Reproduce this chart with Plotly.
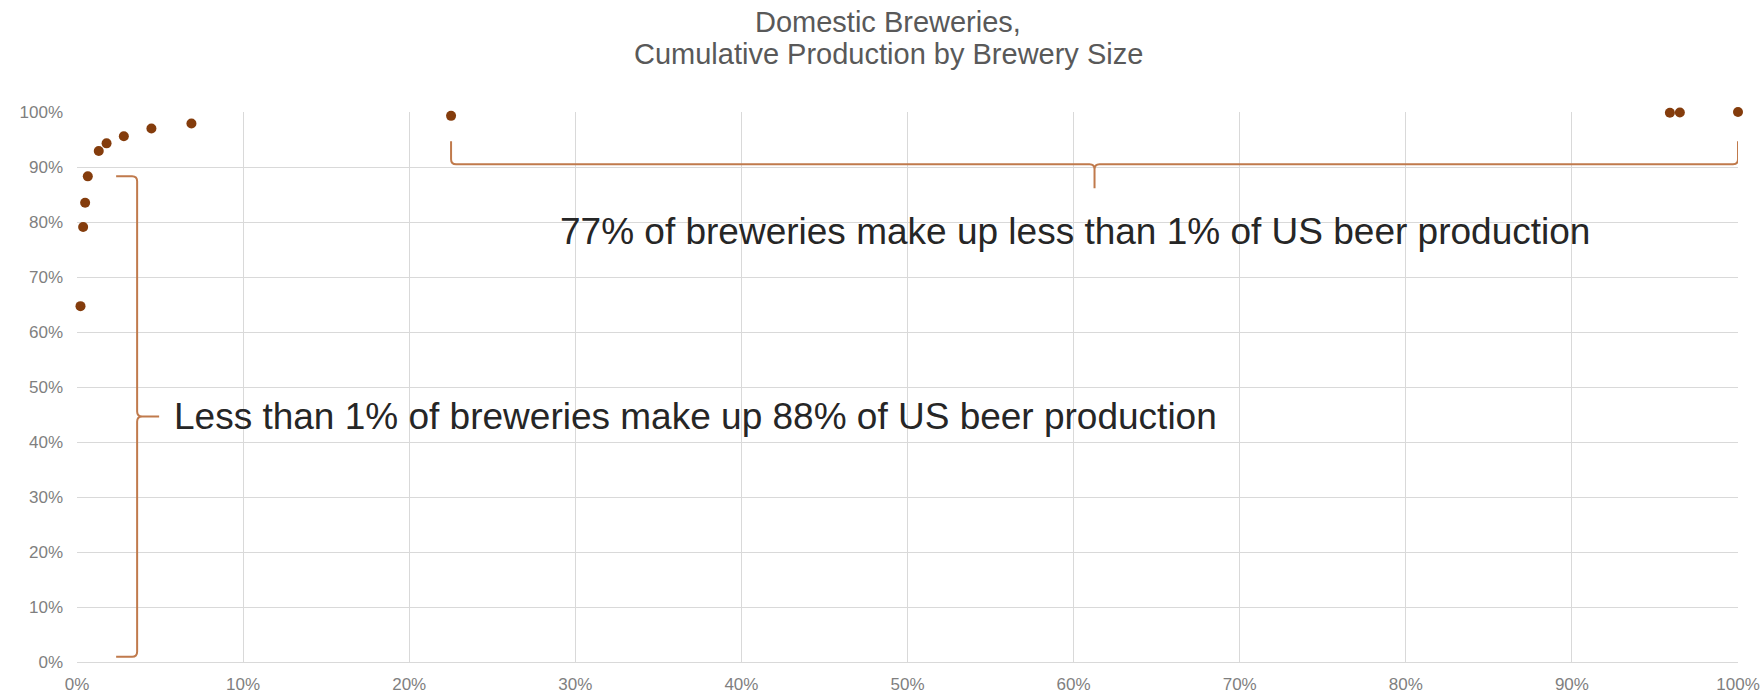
import plotly.graph_objects as go

# ---- data ----
brewery_share = [0.0021, 0.0037, 0.0049, 0.0065, 0.0131, 0.0178, 0.0282, 0.0448,
                 0.0689, 0.2252, 0.959, 0.965, 1.0]
cum_production = [0.647, 0.791, 0.835, 0.883, 0.929, 0.943, 0.956, 0.970,
                  0.979, 0.993, 0.9987, 0.9990, 1.0]
x_ticks = [i / 10 for i in range(11)]
y_ticks = [i / 10 for i in range(11)]
title_lines = ["Domestic Breweries,", "Cumulative Production by Brewery Size"]
note_big = "77% of breweries make up less than 1% of US beer production"
note_small = "Less than 1% of breweries make up 88% of US beer production"

W, H = 1763, 694
ML, MR, MT, MB = 77, 25, 112, 32
PW, PH = W - ML - MR, H - MT - MB
px = 1.0 / PW   # one pixel in x data units
py = 1.0 / PH   # one pixel in y data units

MARKER = "#843C0C"
BRACE = "#C07A4C"
FONT = "Liberation Sans, Arial"

fig = go.Figure()
fig.add_trace(go.Scatter(
    x=brewery_share, y=cum_production, mode="markers",
    marker=dict(color=MARKER, size=10),
    cliponaxis=False, showlegend=False,
))

# ---- braces, derived from the data points ----
lb_x = 0.0362
lb_top = cum_production[3]
lb_bot = 0.0096
lb_mid = (lb_top + lb_bot) / 2
r = 5
left_path = (
    f"M {lb_x - 21*px},{lb_top} L {lb_x - r*px},{lb_top} "
    f"Q {lb_x},{lb_top} {lb_x},{lb_top - r*py} "
    f"L {lb_x},{lb_mid + r*py} Q {lb_x},{lb_mid} {lb_x + r*px},{lb_mid} "
    f"L {lb_x + 22*px},{lb_mid} "
    f"M {lb_x + r*px},{lb_mid} Q {lb_x},{lb_mid} {lb_x},{lb_mid - r*py} "
    f"L {lb_x},{lb_bot + r*py} Q {lb_x},{lb_bot} {lb_x - r*px},{lb_bot} "
    f"L {lb_x - 21*px},{lb_bot}"
)
rb_y = 0.905
rb_l = brewery_share[9]
rb_r = brewery_share[-1]
rb_mid = (rb_l + rb_r) / 2
right_path = (
    f"M {rb_l},{rb_y + 23*py} L {rb_l},{rb_y + r*py} "
    f"Q {rb_l},{rb_y} {rb_l + r*px},{rb_y} "
    f"L {rb_mid - r*px},{rb_y} Q {rb_mid},{rb_y} {rb_mid},{rb_y - r*py} "
    f"L {rb_mid},{rb_y - 24*py} "
    f"M {rb_mid},{rb_y - r*py} Q {rb_mid},{rb_y} {rb_mid + r*px},{rb_y} "
    f"L {rb_r - r*px},{rb_y} Q {rb_r},{rb_y} {rb_r},{rb_y + r*py} "
    f"L {rb_r},{rb_y + 23*py}"
)
for p in (left_path, right_path):
    fig.add_shape(type="path", path=p, xref="x", yref="y",
                  line=dict(color=BRACE, width=2), layer="above")

fig.add_annotation(x=0.2896, y=0.782, xref="x", yref="y", text=note_big,
                   showarrow=False, xanchor="left", yanchor="middle",
                   font=dict(family=FONT, size=37, color="#262626"))
fig.add_annotation(x=0.0572, y=0.447, xref="x", yref="y", text=note_small,
                   showarrow=False, xanchor="left", yanchor="middle",
                   font=dict(family=FONT, size=37, color="#262626"))

# title as two lines with the reference's tighter line spacing
for line, ypix in zip(title_lines, (22.5, 54)):
    fig.add_annotation(x=(888 - ML) / PW, y=(H - MB - ypix) / PH,
                       xref="paper", yref="paper", text=line,
                       showarrow=False, xanchor="center", yanchor="middle",
                       font=dict(family=FONT, size=29, color="#595959"))

fig.update_layout(
    width=W, height=H,
    margin=dict(l=ML, r=MR, t=MT, b=MB, pad=0, autoexpand=False),
    paper_bgcolor="white", plot_bgcolor="white",
    font=dict(family=FONT, color="#7F7F7F"),
    showlegend=False,
)
fig.update_xaxes(range=[0, 1], tickvals=x_ticks, tickformat=".0%",
                 showgrid=True, gridcolor="#D9D9D9", gridwidth=1,
                 zeroline=False, showline=True, linecolor="#D9D9D9",
                 tickfont=dict(size=17, color="#7F7F7F"), ticks="",
                 ticklabelstandoff=7, automargin=False)
fig.update_yaxes(range=[0, 1], tickvals=y_ticks, tickformat=".0%",
                 showgrid=True, gridcolor="#D9D9D9", gridwidth=1,
                 zeroline=False, showline=False,
                 tickfont=dict(size=17, color="#7F7F7F"), ticks="",
                 ticklabelstandoff=13, automargin=False)

fig.write_html("out.html")
